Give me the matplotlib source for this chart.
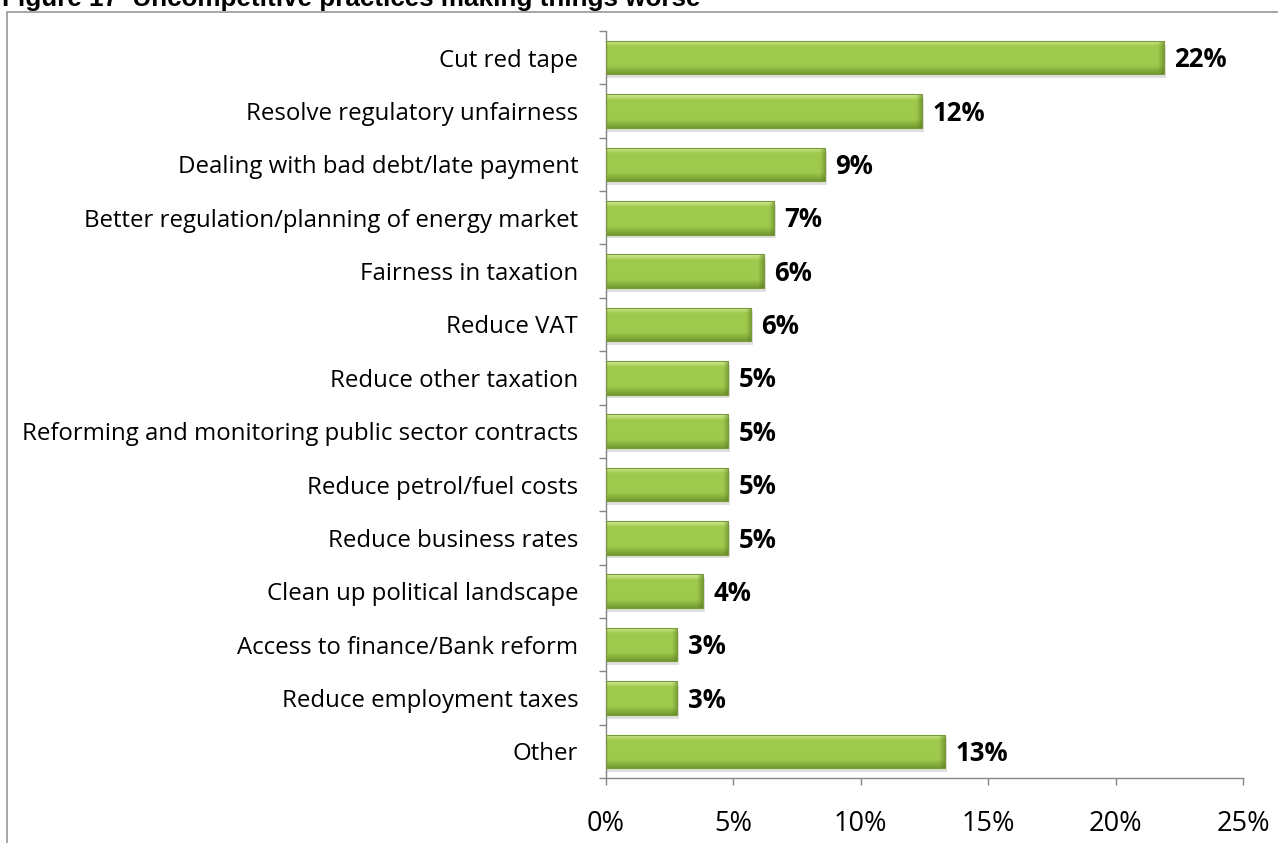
import numpy as np
import matplotlib
matplotlib.use("Agg")
import matplotlib.pyplot as plt
from matplotlib.patches import Rectangle
from matplotlib.ticker import FixedLocator, PercentFormatter

categories = [
    "Cut red tape",
    "Resolve regulatory unfairness",
    "Dealing with bad debt/late payment",
    "Better regulation/planning of energy market",
    "Fairness in taxation",
    "Reduce VAT",
    "Reduce other taxation",
    "Reforming and monitoring public sector contracts",
    "Reduce petrol/fuel costs",
    "Reduce business rates",
    "Clean up political landscape",
    "Access to finance/Bank reform",
    "Reduce employment taxes",
    "Other",
]
values = [21.9, 12.4, 8.6, 6.6, 6.2, 5.7, 4.8, 4.8, 4.8, 4.8, 3.8, 2.8, 2.8, 13.3]
x_ticks = [0, 5, 10, 15, 20, 25]
title = "Figure 17  Uncompetitive practices making things worse"

W, H = 1278, 843
fig = plt.figure(figsize=(W / 100, H / 100), dpi=100)
fig.patch.set_facecolor("white")

# outer chart frame (runs off the right and bottom edges)
fig.patches.append(Rectangle((7 / W, -0.05), 1.2, 1.05 - 12 / H,
                             transform=fig.transFigure, fill=False,
                             edgecolor="#a6a6a6", linewidth=1.4))
fig.text(2 / W, 1 - 6 / H, title, ha="left", va="baseline",
         fontsize=18.7, fontweight="bold", family="Liberation Sans", color="black")

ax = fig.add_axes([606 / W, 1 - 778 / H, (1243 - 606) / W, (778 - 31) / H])
n = len(categories)
ypos = np.arange(n)
bar_h = 0.63

ax.set_xlim(0, 25)
ax.set_ylim(n - 0.5, -0.5)

# vertical green gradient used for each bar
grad = np.linspace(0, 1, 256)
top_c = np.array([0.84, 0.93, 0.60])
mid_c = np.array([0.62, 0.79, 0.30])
bot_c = np.array([0.45, 0.60, 0.19])
cols = np.zeros((256, 1, 3))
for i, t in enumerate(grad):
    if t < 0.18:
        c = top_c + (mid_c - top_c) * (t / 0.18)
    elif t < 0.75:
        c = mid_c
    else:
        c = mid_c + (bot_c - mid_c) * ((t - 0.75) / 0.25)
    cols[i, 0] = c

# darker bevel at the right-hand end of each bar
end_shade = np.zeros((1, 32, 4))
end_shade[0, :, 0:3] = [0.35, 0.47, 0.12]
end_shade[0, :, 3] = np.linspace(0.0, 0.55, 32)
bevel = 0.22

for y, v in zip(ypos, values):
    # soft drop shadow
    ax.add_patch(Rectangle((0, y - bar_h / 2 + 0.07), v + 0.08, bar_h,
                           facecolor="#000000", alpha=0.12, edgecolor="none", zorder=1))
    bar = ax.barh(y, v, height=bar_h, color="none", edgecolor="#7a9a3a",
                  linewidth=0.8, zorder=4)[0]
    im = ax.imshow(cols, extent=(0, v, y + bar_h / 2, y - bar_h / 2),
                   aspect="auto", interpolation="bilinear", zorder=2)
    im.set_clip_path(bar)
    sh = ax.imshow(end_shade, extent=(v - bevel, v, y + bar_h / 2, y - bar_h / 2),
                   aspect="auto", interpolation="bilinear", zorder=3)
    sh.set_clip_path(bar)
    ax.text(v + 0.4, y + 0.04, f"{round(v):.0f}%", va="center", ha="left",
            fontsize=18.5, fontweight="bold", family="Open Sans", color="black")

ax.set_yticks(ypos)
ax.set_yticklabels(categories, family="Open Sans", fontsize=17.3)
ax.yaxis.set_minor_locator(FixedLocator(np.arange(-0.5, n, 1.0)))
ax.tick_params(axis="y", which="major", length=0, pad=20)
ax.tick_params(axis="y", which="minor", length=5, color="#868686", width=1)

ax.set_xticks(x_ticks)
ax.xaxis.set_major_formatter(PercentFormatter(decimals=0))
ax.tick_params(axis="x", length=5, color="#868686", width=1, pad=18,
               labelsize=19.5)
for lbl in ax.get_xticklabels():
    lbl.set_family("Open Sans")

for s in ["top", "right"]:
    ax.spines[s].set_visible(False)
for s in ["left", "bottom"]:
    ax.spines[s].set_color("#868686")
    ax.spines[s].set_linewidth(1)

fig.savefig("out.png", dpi=100)
